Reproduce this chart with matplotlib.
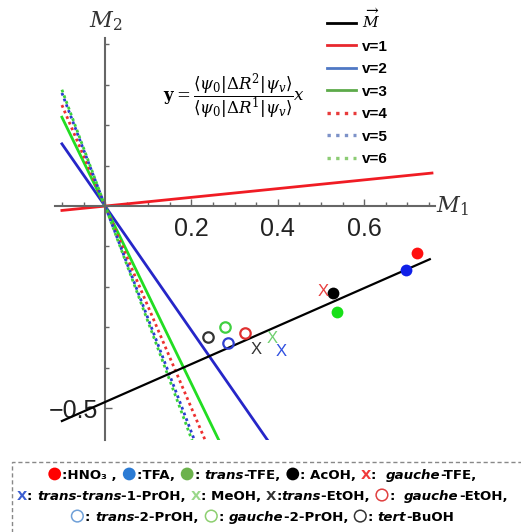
import matplotlib
matplotlib.use("Agg")
import matplotlib.pyplot as plt
import numpy as np
from matplotlib.lines import Line2D
from matplotlib.patches import Circle, Rectangle
from matplotlib.offsetbox import (TextArea, DrawingArea, HPacker, VPacker,
                                  AnchoredOffsetbox)

plt.rcParams['font.family'] = ['Liberation Sans', 'DejaVu Sans']
plt.rcParams['mathtext.fontset'] = 'dejavuserif'

# --- data ---
# fitted line of the molecules (M vector)
M_SLOPE = 0.47
M_INTERCEPT = -0.485
M_X = [-0.1, 0.752]

# y = <psi0|dR2|psiv>/<psi0|dR1|psiv> x   for v = 1..6
v_labels = ['v=1', 'v=2', 'v=3', 'v=4', 'v=5', 'v=6']
v_slopes = [0.108, -1.54, -2.2, -2.5, -2.8, -2.88]
v_colors = ['#f01c24', '#2626c8', '#22dd22', '#ee3030', '#2a3ed0', '#3ad23a']
v_styles = ['-', '-', '-', (0, (1, 1.2)), (0, (1, 1.2)), (0, (1, 1.2))]
V_X = [-0.1, 0.757]

# molecules (M1, M2)
mol_names = ['HNO3', 'TFA', 'trans-TFE', 'AcOH', 'gauche-TFE',
             'trans-trans-1-PrOH', 'MeOH', 'trans-EtOH', 'gauche-EtOH',
             'trans-2-PrOH', 'gauche-2-PrOH', 'tert-BuOH']
mol_m1 = [0.722, 0.697, 0.538, 0.528, 0.504, 0.407, 0.388, 0.351, 0.324,
          0.285, 0.278, 0.239]
mol_m2 = [-0.116, -0.157, -0.262, -0.216, -0.212, -0.361, -0.328, -0.356,
          -0.315, -0.340, -0.299, -0.323]
mol_marker = ['o', 'o', 'o', 'o', 'x', 'x', 'x', 'x', 'O', 'O', 'O', 'O']
mol_color = ['#ff1010', '#1020e8', '#18e018', '#000000', '#e84040',
             '#3050e0', '#70d070', '#333333', '#e03030', '#3040d0',
             '#40d040', '#333333']

fig = plt.figure(figsize=(5.21, 5.32), dpi=100)
ax = fig.add_axes([55 / 521, 92 / 532, 380 / 521, 402 / 532])
ax.set_xlim(-0.116, 0.764)
ax.set_ylim(-0.579, 0.416)

# lines
for slope, col, ls in zip(v_slopes, v_colors, v_styles):
    xs = np.array(V_X)
    ax.plot(xs, slope * xs, color=col, lw=2.0, ls=ls, zorder=2)
xs = np.array(M_X)
ax.plot(xs, M_INTERCEPT + M_SLOPE * xs, color='black', lw=1.6, zorder=3)

# molecules
for x, y, mk, c in zip(mol_m1, mol_m2, mol_marker, mol_color):
    if mk == 'o':
        ax.plot(x, y, 'o', ms=8.5, color=c, mec='none', zorder=4)
    elif mk == 'x':
        ax.text(x, y, 'X', color=c, fontsize=12, ha='center', va='center',
                zorder=4)
    else:
        ax.plot(x, y, 'o', ms=7.5, mfc='none', mec=c, mew=1.6, zorder=4)

# axes through the origin
for side in ['top', 'right']:
    ax.spines[side].set_visible(False)
for side in ['left', 'bottom']:
    ax.spines[side].set_position(('data', 0))
    ax.spines[side].set_color('#666666')
    ax.spines[side].set_linewidth(1.5)

ax.set_xticks([0.2, 0.4, 0.6])
ax.set_xticklabels(['0.2', '0.4', '0.6'])
ax.set_xticks(np.arange(-0.1, 0.76, 0.05), minor=True)
ax.set_yticks([-0.5])
ax.set_yticklabels(['\u22120.5'])
ax.set_yticks([-0.4, -0.3, -0.2, -0.1, 0.1, 0.2, 0.3, 0.4], minor=True)
ax.tick_params(which='both', direction='in', color='#666666', width=1,
               labelsize=18, colors='#222222')
ax.tick_params(which='major', length=5)
ax.tick_params(which='minor', length=3)
ax.tick_params(axis='x', pad=8)
ax.tick_params(axis='y', pad=5)

# axis names
ax.text(0.134, 1.012, r'$M_{\mathit{2}}$', transform=ax.transAxes,
        fontsize=16, ha='center', va='bottom', color='#333333')
fig.text(452 / 521, (532 - 206) / 532, r'$M_{\mathit{1}}$', fontsize=16,
         color='#333333', ha='center', va='center')

fig.text(234 / 521, (532 - 97) / 532,
         r'$\mathbf{y}=\dfrac{\langle\psi_0|\Delta R^2|\psi_v\rangle}'
         r'{\langle\psi_0|\Delta R^1|\psi_v\rangle}x$',
         fontsize=12, ha='center', va='center')

# legend of the lines
handles = [Line2D([], [], color='black', lw=2)]
leg_cols = ['#e8282e', '#4f78c4', '#5daa4a', '#e83a3a', '#7d92c8', '#8ccc74']
for col, ls in zip(leg_cols, v_styles):
    handles.append(Line2D([], [], color=col, lw=2.4 if ls != '-' else 2,
                          ls=(0, (1, 1.6)) if ls != '-' else '-'))
labels = [r'$\overrightarrow{M}$'] + v_labels
fig.legend(handles, labels, loc='upper left',
           bbox_to_anchor=(327 / 521, 1 - 8 / 532), frameon=False,
           prop={'family': 'Liberation Sans', 'weight': 'bold', 'size': 11},
           handlelength=1.9, handletextpad=0.4, labelspacing=0.56,
           borderaxespad=0, borderpad=0)

# legend of the molecules (bottom box)
FS = 9.6


def txt(s, color='black', italic=False):
    return TextArea(s, textprops=dict(color=color, fontsize=FS,
                                      fontweight='bold',
                                      fontstyle='italic' if italic else 'normal',
                                      family='DejaVu Sans'))


def dot(color, filled=True):
    da = DrawingArea(11, 9, 0, 1)
    da.add_artist(Circle((5.5, 3.5), 4.6 if filled else 4.2,
                         fc=color if filled else 'none', ec=color,
                         lw=0 if filled else 1.1))
    return da


rows = [
    [dot('#ff0000'), txt(':HNO\u2083 , '), dot('#2b7bd4'), txt(':TFA, '),
     dot('#6cb24c'), txt(': '), txt('trans', italic=True), txt('-TFE, '),
     dot('#000000'), txt(': AcOH, '), txt('X', '#f03a3a'), txt(':  '),
     txt('gauche', italic=True), txt('-TFE,')],
    [txt('X', '#3d5fd0'), txt(': '), txt('trans-trans', italic=True),
     txt('-1-PrOH, '), txt('X', '#9ad88a'), txt(': MeOH, '),
     txt('X', '#333333'), txt(':'), txt('trans', italic=True),
     txt('-EtOH, '), dot('#e04040', False), txt(':  '),
     txt('gauche', italic=True), txt('-EtOH,')],
    [dot('#6fa0d8', False), txt(': '), txt('trans', italic=True),
     txt('-2-PrOH, '), dot('#8dcf70', False), txt(': '),
     txt('gauche', italic=True), txt('-2-PrOH, '), dot('#333333', False),
     txt(': '), txt('tert', italic=True), txt('-BuOH')],
]
box = VPacker(children=[HPacker(children=r, align='baseline', pad=0, sep=0)
                        for r in rows], align='center', pad=0, sep=5)
fig.add_artist(AnchoredOffsetbox(loc='center', child=box, frameon=False,
                                 bbox_to_anchor=(262 / 521, 0.068),
                                 bbox_transform=fig.transFigure, pad=0,
                                 borderpad=0))
fig.add_artist(Rectangle((12 / 521, -0.1), 1.0, 0.1 + 70 / 532,
                         transform=fig.transFigure, fill=False,
                         ec='#888888', lw=1, ls=(0, (3, 2))))

fig.savefig('out.png', dpi=100)
